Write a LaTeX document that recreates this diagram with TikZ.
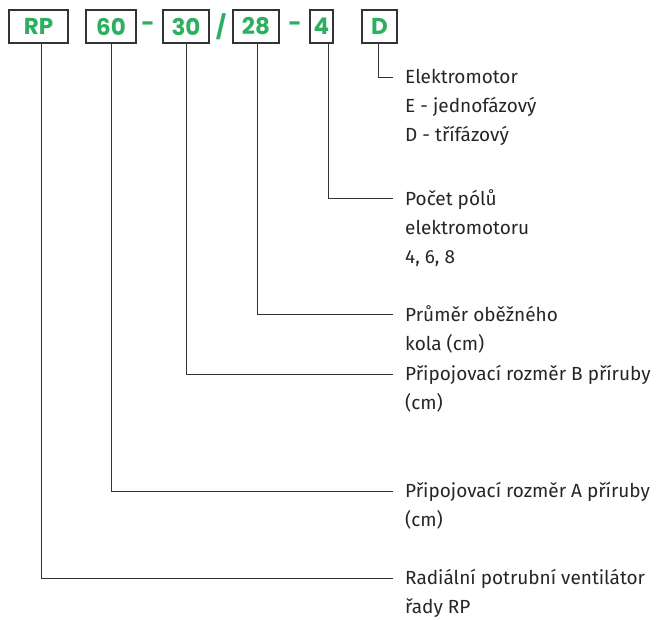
\documentclass[tikz,border=0pt]{standalone}
\usepackage{fontspec}
\setmainfont{Fira Sans}
\newfontfamily\codefont{Poppins}
\usepackage{tikz}
\usetikzlibrary{positioning}
\definecolor{codegreen}{HTML}{2EAF5F}
\definecolor{framegray}{HTML}{333333}

\begin{document}
\begin{tikzpicture}[x=1pt, y=-1pt,
    codebox/.style={draw=framegray, line width=1.2pt, minimum height=33pt, inner sep=0pt,
        text=codegreen, font=\codefont\fontsize{23}{23}\selectfont\bfseries},
    sep/.style={text=codegreen, font=\codefont\fontsize{23}{23}\selectfont\bfseries, inner sep=0pt},
    label/.style={anchor=north west, align=left, inner sep=0pt,
        font=\fontsize{19}{29}\selectfont, text=black!85,
        execute at begin node=\rule{0pt}{16pt}},
    lead/.style={draw=black!80, line width=0.9pt}]
    \useasboundingbox (0,0) rectangle (659,619);

    % Code boxes
    \node[codebox, minimum width=59pt] (rp) at (38.5,26.5) {RP};
    \node[codebox, minimum width=50pt] (a) at (111,26.5) {60};
    \node[sep] (s1) at (148,26.5) {-};
    \node[codebox, minimum width=46pt] (b) at (186,26.5) {30};
    \node[sep] (s2) at (221,26.5) {/};
    \node[codebox, minimum width=46pt] (d) at (256,26.5) {28};
    \node[sep] (s3) at (295,26.5) {-};
    \node[codebox, minimum width=23pt] (p) at (321.5,26.5) {4};
    \node[codebox, minimum width=35pt] (m) at (379.5,26.5) {D};

    % Descriptions (first baseline 16pt under the top)
    \node[label] (tm) at (405,69) {Elektromotor\\E - jednofázový\\D - třífázový};
    \node[label] (tp) at (405,189) {Počet pólů\\elektromotoru\\4, 6, 8};
    \node[label] (td) at (405,305) {Průměr oběžného\\kola (cm)};
    \node[label] (tb) at (405,365) {Připojovací rozměr B příruby\\(cm)};
    \node[label] (ta) at (405,482) {Připojovací rozměr A příruby\\(cm)};
    \node[label] (trp) at (405,569) {Radiální potrubní ventilátor\\řady RP};

    % Leader lines
    \foreach \bx/\dx/\txt/\y in {m/-1.5/tm/77, p/6.5/tp/198, d/1/td/314,
                                 b/0/tb/374, a/0/ta/491, rp/3/trp/578} {
        \coordinate (e\bx) at (393,\y);
        \draw[lead] ([xshift=\dx pt]\bx.south) |- (e\bx);
    }
\end{tikzpicture}
\end{document}
